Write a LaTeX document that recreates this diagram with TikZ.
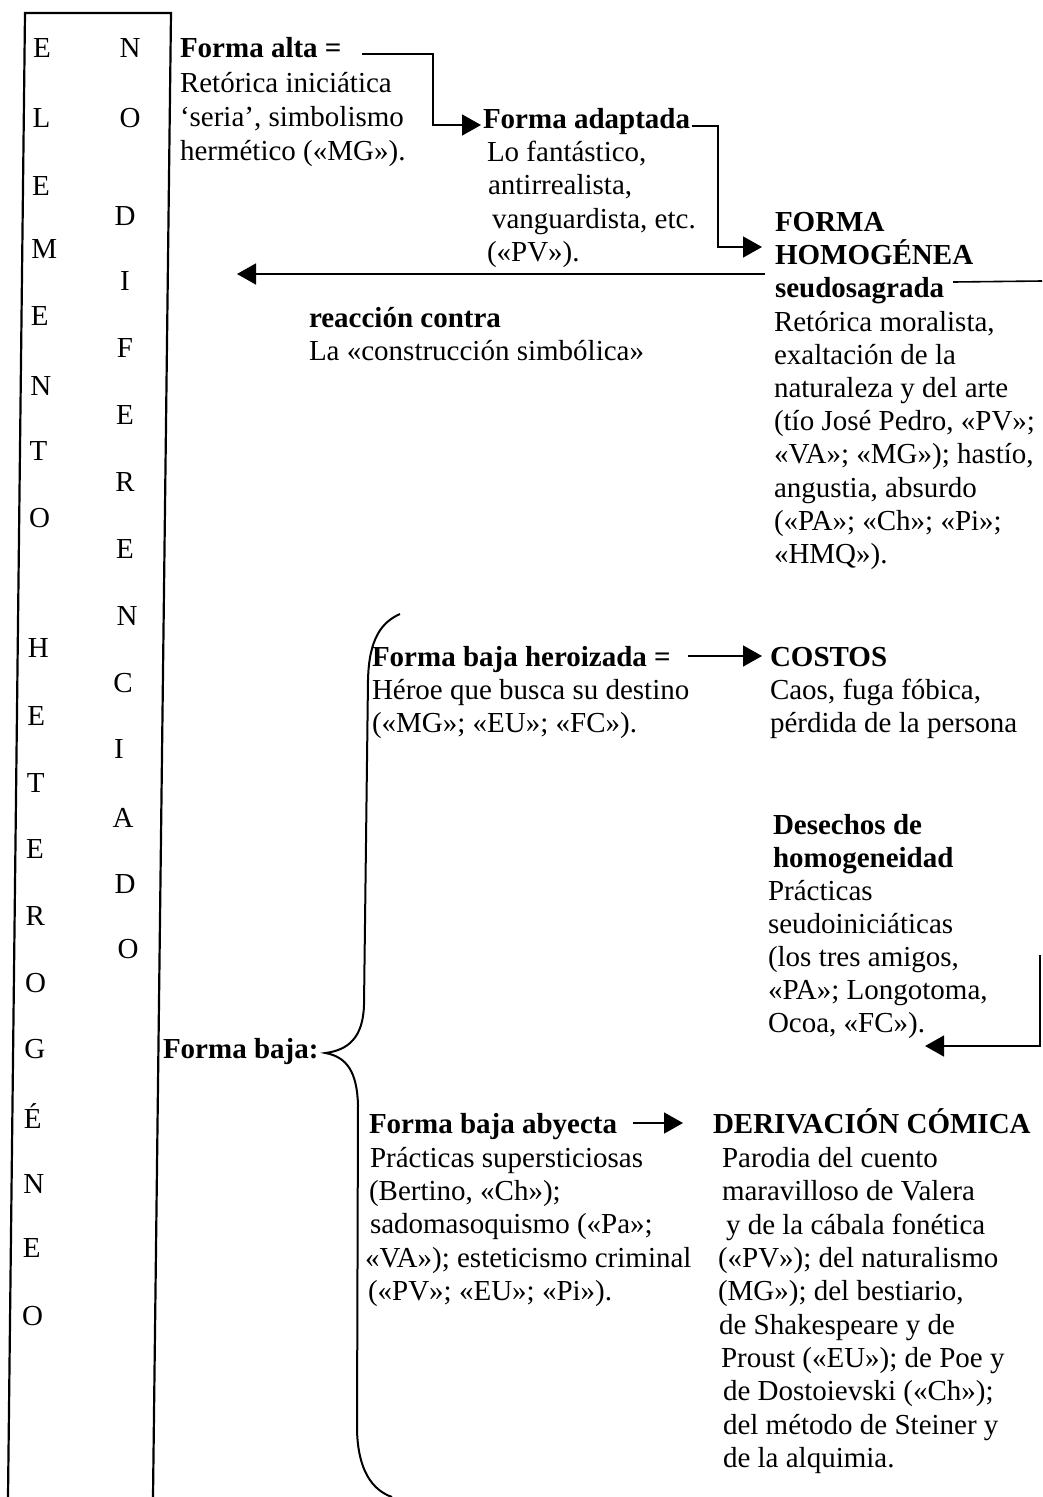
\documentclass[tikz,border=0pt]{standalone}
\usepackage{fontspec}
\setmainfont{Liberation Serif}
\usetikzlibrary{arrows.meta,calc}
\begin{document}
\begin{tikzpicture}[x=1pt,y=-1pt,
  ln/.style={anchor=base west,inner sep=0pt,outer sep=0pt,font=\fontsize{29}{33}\selectfont},
  bf/.style={ln,font=\fontsize{29}{33}\selectfont\bfseries},
  colL/.style={anchor=base west,inner sep=0pt,font=\fontsize{29}{33}\selectfont},
  colR/.style={anchor=base,inner sep=0pt,font=\fontsize{29}{33}\selectfont},
  arr/.style={line width=1.6pt,-{Triangle[length=19pt,width=21pt]}},
  rulel/.style={line width=1.6pt},
  frame/.style={line width=2.2pt,line join=miter},
  bracel/.style={line width=2pt},
]
\useasboundingbox (0,0) rectangle (1042,1497);
\fill[white] (0,0) rectangle (1042,1497);

% frame
\draw[frame] (8,1497) -- (25,13) -- (171,13) -- (153,1497);

% column letters
\foreach \y/\t [count=\i] in {57/E,127/L,195/E,258/M,325/E,395/N,460/T,527/O,657/H,725/E,792/T,858/E,925/R,992/O,1058/G,1128/É,1193/N,1257/E,1325/O}
  \node[colL] (L\i) at ({33-(\y-57)*0.0087},\y) {\t};
\foreach \y/\t/\x [count=\i] in {57/N/130,127/O/130,225/D/125,290/I/125,357/F/125,424/E/125,491/R/125,558/E/125,625/N/127,692/C/123,758/I/119,827/A/123,893/D/125,958/O/128}
  \node[colR] (R\i) at (\x,\y) {\t};

% Forma alta
\node[bf] (fa1) at (180,57) {Forma alta =};
\node[ln] (fa2) at (180,92) {Retórica iniciática};
\node[ln] (fa3) at (180,126) {‘seria’, simbolismo};
\node[ln] (fa4) at (180,160) {hermético («MG»).};

% Forma adaptada
\node[bf] (fb1) at (483,128) {Forma adaptada};
\node[ln] (fb2) at (487,161) {Lo fantástico,};
\node[ln] (fb3) at (488,194) {antirrealista,};
\node[ln] (fb4) at (492,228) {vanguardista, etc.};
\node[ln] (fb5) at (487,261) {(«PV»).};

% Forma homogenea
\node[bf] (fh1) at (775,231) {FORMA};
\node[bf] (fh2) at (775,264) {HOMOGÉNEA};
\node[bf] (fh3) at (775,297) {seudosagrada};
\node[ln] (fh4) at (774,331) {Retórica moralista,};
\node[ln] (fh5) at (774,364) {exaltación de la};
\node[ln] (fh6) at (774,397) {naturaleza y del arte};
\node[ln] (fh7) at (774,430) {(tío José Pedro, «PV»;};
\node[ln] (fh8) at (774,463) {«VA»; «MG»); hastío,};
\node[ln] (fh9) at (774,497) {angustia, absurdo};
\node[ln] (fh10) at (774,530) {(«PA»; «Ch»; «Pi»;};
\node[ln] (fh11) at (774,563) {«HMQ»).};

% reaccion
\node[bf] (rc1) at (309,327) {reacción contra};
\node[ln] (rc2) at (309,360) {La «construcción simbólica»};

% heroizada
\node[bf] (hz1) at (372,666) {Forma baja heroizada =};
\node[ln] (hz2) at (372,699) {Héroe que busca su destino};
\node[ln] (hz3) at (372,732) {(«MG»; «EU»; «FC»).};
\node[bf] (cs1) at (770,666) {COSTOS};
\node[ln] (cs2) at (770,699) {Caos, fuga fóbica,};
\node[ln] (cs3) at (770,732) {pérdida de la persona};

% desechos
\node[bf] (de1) at (773,834) {Desechos de};
\node[bf] (de2) at (773,867) {homogeneidad};
\node[ln] (de3) at (768,900) {Prácticas};
\node[ln] (de4) at (768,933) {seudoiniciáticas};
\node[ln] (de5) at (768,966) {(los tres amigos,};
\node[ln] (de6) at (768,999) {«PA»; Longotoma,};
\node[ln] (de7) at (768,1032) {Ocoa, «FC»).};

% forma baja
\node[bf] (fbj) at (163,1058) {Forma baja:};

% abyecta
\node[bf] (ab1) at (369,1133) {Forma baja abyecta};
\node[ln] (ab2) at (370,1167) {Prácticas supersticiosas};
\node[ln] (ab3) at (369,1200) {(Bertino, «Ch»);};
\node[ln] (ab4) at (370,1233) {sadomasoquismo («Pa»;};
\node[ln] (ab5) at (365,1267) {«VA»); esteticismo criminal};
\node[ln] (ab6) at (368,1300) {(«PV»; «EU»; «Pi»).};

% derivacion
\node[bf] (dc1) at (713,1133) {DERIVACIÓN CÓMICA};
\node[ln] (dc2) at (722,1167) {Parodia del cuento};
\node[ln] (dc3) at (722,1200) {maravilloso de Valera};
\node[ln] (dc4) at (726,1234) {y de la cábala fonética};
\node[ln] (dc5) at (718,1267) {(«PV»); del naturalismo};
\node[ln] (dc6) at (718,1300) {(MG»); del bestiario,};
\node[ln] (dc7) at (719,1334) {de Shakespeare y de};
\node[ln] (dc8) at (721,1367) {Proust («EU»); de Poe y};
\node[ln] (dc9) at (723,1400) {de Dostoievski («Ch»);};
\node[ln] (dc10) at (723,1434) {del método de Steiner y};
\node[ln] (dc11) at (723,1467) {de la alquimia.};

% connectors
\draw[arr] ([xshift=21pt,yshift=3pt]fa1.base east) -| ([xshift=-50pt,yshift=3pt]fb1.base west) -- ([xshift=-2pt,yshift=3pt]fb1.base west);
\draw[arr] ([xshift=2pt,yshift=2pt]fb1.base east) -| ([xshift=-57pt,yshift=17pt]fh2.base west) -- ([xshift=-13pt,yshift=17pt]fh2.base west);
\coordinate (rtip) at (237,274);
\draw[arr] ([xshift=-10pt,yshift=-10pt]fh2.base west) -- (rtip);
\coordinate (redge) at (1042,281);
\draw[rulel] ([xshift=9pt,yshift=15pt]fh3.base east) -- (redge);
\draw[arr] ([xshift=17pt,yshift=10pt]hz1.base east) -- ([xshift=-8pt,yshift=10pt]cs1.base west);
\coordinate (dtop) at (1040,955);
\draw[arr] (dtop) |- ([yshift=-14pt]de7.base east);
\draw[arr] ([xshift=16pt,yshift=10pt]ab1.base east) -- ([xshift=-30pt,yshift=10pt]dc1.base west);

% brace
\coordinate (btip) at ([xshift=7pt,yshift=5pt]fbj.base east);
\draw[bracel] (400,614) .. controls (382,622) and (369,638) .. (368,680)
  -- (364,1005) .. controls (363,1038) and (348,1050) .. (btip)
  .. controls (347,1057) and (357,1072) .. (358,1105)
  -- (357,1430) .. controls (358,1470) and (372,1490) .. (392,1497);
\end{tikzpicture}
\end{document}
